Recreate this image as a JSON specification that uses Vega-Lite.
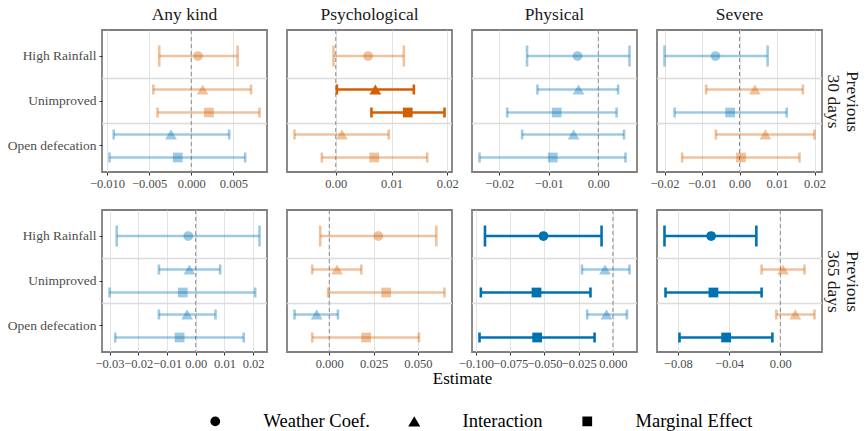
{
  "$schema": "https://vega.github.io/schema/vega-lite/v6.json",
  "padding": {"left": 6, "top": 5, "right": 6, "bottom": 4},
  "background": "white",
  "datasets": {
    "estimates": [
      {"outcome": "Any kind", "window": 30, "variable": "High Rainfall", "type": "Weather Coef.", "est": 0.0008, "lo": -0.0038, "hi": 0.0055},
      {"outcome": "Any kind", "window": 30, "variable": "Unimproved", "type": "Interaction", "est": 0.00135, "lo": -0.0045, "hi": 0.0071},
      {"outcome": "Any kind", "window": 30, "variable": "Unimproved", "type": "Marginal Effect", "est": 0.0021, "lo": -0.0040, "hi": 0.0081},
      {"outcome": "Any kind", "window": 30, "variable": "Open defecation", "type": "Interaction", "est": -0.0024, "lo": -0.0092, "hi": 0.0045},
      {"outcome": "Any kind", "window": 30, "variable": "Open defecation", "type": "Marginal Effect", "est": -0.0016, "lo": -0.0097, "hi": 0.0064},
      {"outcome": "Psychological", "window": 30, "variable": "High Rainfall", "type": "Weather Coef.", "est": 0.0058, "lo": -0.0004, "hi": 0.0122},
      {"outcome": "Psychological", "window": 30, "variable": "Unimproved", "type": "Interaction", "est": 0.0071, "lo": 0.0002, "hi": 0.0140},
      {"outcome": "Psychological", "window": 30, "variable": "Unimproved", "type": "Marginal Effect", "est": 0.0129, "lo": 0.0064, "hi": 0.0195},
      {"outcome": "Psychological", "window": 30, "variable": "Open defecation", "type": "Interaction", "est": 0.0011, "lo": -0.0074, "hi": 0.0095},
      {"outcome": "Psychological", "window": 30, "variable": "Open defecation", "type": "Marginal Effect", "est": 0.0069, "lo": -0.0025, "hi": 0.0164},
      {"outcome": "Physical", "window": 30, "variable": "High Rainfall", "type": "Weather Coef.", "est": -0.0042, "lo": -0.0144, "hi": 0.0063},
      {"outcome": "Physical", "window": 30, "variable": "Unimproved", "type": "Interaction", "est": -0.0040, "lo": -0.0123, "hi": 0.0040},
      {"outcome": "Physical", "window": 30, "variable": "Unimproved", "type": "Marginal Effect", "est": -0.0084, "lo": -0.0184, "hi": 0.0037},
      {"outcome": "Physical", "window": 30, "variable": "Open defecation", "type": "Interaction", "est": -0.0050, "lo": -0.0154, "hi": 0.0052},
      {"outcome": "Physical", "window": 30, "variable": "Open defecation", "type": "Marginal Effect", "est": -0.0092, "lo": -0.0240, "hi": 0.0055},
      {"outcome": "Severe", "window": 30, "variable": "High Rainfall", "type": "Weather Coef.", "est": -0.0064, "lo": -0.0200, "hi": 0.0075},
      {"outcome": "Severe", "window": 30, "variable": "Unimproved", "type": "Interaction", "est": 0.0041, "lo": -0.0089, "hi": 0.0169},
      {"outcome": "Severe", "window": 30, "variable": "Unimproved", "type": "Marginal Effect", "est": -0.0025, "lo": -0.0173, "hi": 0.0126},
      {"outcome": "Severe", "window": 30, "variable": "Open defecation", "type": "Interaction", "est": 0.0069, "lo": -0.0063, "hi": 0.0200},
      {"outcome": "Severe", "window": 30, "variable": "Open defecation", "type": "Marginal Effect", "est": 0.0004, "lo": -0.0153, "hi": 0.0160},
      {"outcome": "Any kind", "window": 365, "variable": "High Rainfall", "type": "Weather Coef.", "est": -0.0026, "lo": -0.0275, "hi": 0.0222},
      {"outcome": "Any kind", "window": 365, "variable": "Unimproved", "type": "Interaction", "est": -0.0022, "lo": -0.0128, "hi": 0.0085},
      {"outcome": "Any kind", "window": 365, "variable": "Unimproved", "type": "Marginal Effect", "est": -0.0045, "lo": -0.0300, "hi": 0.0207},
      {"outcome": "Any kind", "window": 365, "variable": "Open defecation", "type": "Interaction", "est": -0.0030, "lo": -0.0128, "hi": 0.0069},
      {"outcome": "Any kind", "window": 365, "variable": "Open defecation", "type": "Marginal Effect", "est": -0.0056, "lo": -0.0280, "hi": 0.0167},
      {"outcome": "Psychological", "window": 365, "variable": "High Rainfall", "type": "Weather Coef.", "est": 0.0277, "lo": -0.0051, "hi": 0.0604},
      {"outcome": "Psychological", "window": 365, "variable": "Unimproved", "type": "Interaction", "est": 0.0044, "lo": -0.0096, "hi": 0.0181},
      {"outcome": "Psychological", "window": 365, "variable": "Unimproved", "type": "Marginal Effect", "est": 0.0321, "lo": -0.0006, "hi": 0.0650},
      {"outcome": "Psychological", "window": 365, "variable": "Open defecation", "type": "Interaction", "est": -0.0071, "lo": -0.0196, "hi": 0.0049},
      {"outcome": "Psychological", "window": 365, "variable": "Open defecation", "type": "Marginal Effect", "est": 0.0208, "lo": -0.0096, "hi": 0.0506},
      {"outcome": "Physical", "window": 365, "variable": "High Rainfall", "type": "Weather Coef.", "est": -0.0507, "lo": -0.0934, "hi": -0.0083},
      {"outcome": "Physical", "window": 365, "variable": "Unimproved", "type": "Interaction", "est": -0.0058, "lo": -0.0226, "hi": 0.0121},
      {"outcome": "Physical", "window": 365, "variable": "Unimproved", "type": "Marginal Effect", "est": -0.0558, "lo": -0.0964, "hi": -0.0164},
      {"outcome": "Physical", "window": 365, "variable": "Open defecation", "type": "Interaction", "est": -0.0047, "lo": -0.0188, "hi": 0.0102},
      {"outcome": "Physical", "window": 365, "variable": "Open defecation", "type": "Marginal Effect", "est": -0.0553, "lo": -0.0974, "hi": -0.0134},
      {"outcome": "Severe", "window": 365, "variable": "High Rainfall", "type": "Weather Coef.", "est": -0.0540, "lo": -0.0904, "hi": -0.0187},
      {"outcome": "Severe", "window": 365, "variable": "Unimproved", "type": "Interaction", "est": 0.0021, "lo": -0.0146, "hi": 0.0189},
      {"outcome": "Severe", "window": 365, "variable": "Unimproved", "type": "Marginal Effect", "est": -0.0522, "lo": -0.0896, "hi": -0.0146},
      {"outcome": "Severe", "window": 365, "variable": "Open defecation", "type": "Interaction", "est": 0.0117, "lo": -0.0031, "hi": 0.0267},
      {"outcome": "Severe", "window": 365, "variable": "Open defecation", "type": "Marginal Effect", "est": -0.0423, "lo": -0.0787, "hi": -0.0062}
    ]
  },
  "data": {"name": "estimates"},
  "columns": 4,
  "spacing": {"row": 38, "column": 20},
  "bounds": "flush",
  "resolve": {"scale": {"x": "independent", "y": "independent", "yOffset": "independent"}, "axis": {"x": "independent", "y": "independent"}},
  "concat": [
    {
      "width": 165, "height": 142, "title": "Any kind",
      "transform": [{"filter": "datum.outcome === 'Any kind' && datum.window === 30"}],
      "layer": [
        {"transform": [{"filter": "datum.variable !== 'Open defecation' && datum.type !== 'Interaction'"}], "mark": {"type": "rule", "color": "#dcdcdc", "strokeWidth": 1.4},
         "encoding": {"y": {"field": "variable", "type": "nominal", "bandPosition": 1, "scale": {"domain": ["High Rainfall", "Unimproved", "Open defecation"], "paddingInner": 0, "paddingOuter": 0.078}, "axis": {"title": null, "labelFontSize": 13.5, "labelColor": "#4d4d4d", "ticks": true, "tickSize": 3, "labelPadding": 3, "domain": false, "grid": false}}}},
        {"transform": [{"filter": "datum.type === 'Weather Coef.'"}], "mark": {"type": "rule", "color": "#8a8a8a", "strokeDash": [4, 3], "strokeWidth": 1},
         "encoding": {"x": {"datum": 0, "type": "quantitative", "scale": {"zero": false, "nice": false, "padding": 7.5}, "axis": {"title": null, "values": [-0.01, -0.005, 0, 0.005], "format": ".3f"}}}},
        {"mark": {"type": "rule", "strokeWidth": 2.6},
         "encoding": {
           "x": {"field": "lo", "type": "quantitative", "scale": {"zero": false, "nice": false, "padding": 7.5}, "axis": {"title": null, "values": [-0.01, -0.005, 0, 0.005], "format": ".3f"}},
           "x2": {"field": "hi"},
           "y": {"field": "variable", "type": "nominal", "scale": {"domain": ["High Rainfall", "Unimproved", "Open defecation"], "paddingInner": 0, "paddingOuter": 0.078}, "axis": {"title": null, "labelFontSize": 13.5, "labelColor": "#4d4d4d", "ticks": true, "tickSize": 3, "labelPadding": 3, "domain": false, "grid": false}},
           "yOffset": {"field": "type", "type": "nominal", "scale": {"domain": ["Interaction", "Weather Coef.", "Marginal Effect"], "paddingInner": 0, "paddingOuter": 0.456}},
           "color": {"field": "est", "type": "quantitative", "scale": {"type": "threshold", "domain": [0], "range": ["#0072B2", "#D55E00"]}, "legend": null},
           "opacity": {"condition": {"test": "datum.lo > 0 || datum.hi < 0", "value": 1}, "value": 0.38}
         }},
        {"mark": {"type": "tick", "thickness": 2.6},
         "encoding": {
           "x": {"field": "lo", "type": "quantitative", "scale": {"zero": false, "nice": false, "padding": 7.5}},
           "y": {"field": "variable", "type": "nominal", "scale": {"domain": ["High Rainfall", "Unimproved", "Open defecation"], "paddingInner": 0, "paddingOuter": 0.078}},
           "yOffset": {"field": "type", "type": "nominal", "scale": {"domain": ["Interaction", "Weather Coef.", "Marginal Effect"], "paddingInner": 0, "paddingOuter": 0.456}},
           "size": {"condition": {"test": "datum.type === 'Weather Coef.'", "value": 21}, "value": 10},
           "color": {"field": "est", "type": "quantitative", "scale": {"type": "threshold", "domain": [0], "range": ["#0072B2", "#D55E00"]}, "legend": null},
           "opacity": {"condition": {"test": "datum.lo > 0 || datum.hi < 0", "value": 1}, "value": 0.38}
         }},
        {"mark": {"type": "tick", "thickness": 2.6},
         "encoding": {
           "x": {"field": "hi", "type": "quantitative", "scale": {"zero": false, "nice": false, "padding": 7.5}},
           "y": {"field": "variable", "type": "nominal", "scale": {"domain": ["High Rainfall", "Unimproved", "Open defecation"], "paddingInner": 0, "paddingOuter": 0.078}},
           "yOffset": {"field": "type", "type": "nominal", "scale": {"domain": ["Interaction", "Weather Coef.", "Marginal Effect"], "paddingInner": 0, "paddingOuter": 0.456}},
           "size": {"condition": {"test": "datum.type === 'Weather Coef.'", "value": 21}, "value": 10},
           "color": {"field": "est", "type": "quantitative", "scale": {"type": "threshold", "domain": [0], "range": ["#0072B2", "#D55E00"]}, "legend": null},
           "opacity": {"condition": {"test": "datum.lo > 0 || datum.hi < 0", "value": 1}, "value": 0.38}
         }},
        {"mark": {"type": "point", "filled": true, "strokeWidth": 0},
         "encoding": {
           "x": {"field": "est", "type": "quantitative", "scale": {"zero": false, "nice": false, "padding": 7.5}},
           "y": {"field": "variable", "type": "nominal", "scale": {"domain": ["High Rainfall", "Unimproved", "Open defecation"], "paddingInner": 0, "paddingOuter": 0.078}},
           "yOffset": {"field": "type", "type": "nominal", "scale": {"domain": ["Interaction", "Weather Coef.", "Marginal Effect"], "paddingInner": 0, "paddingOuter": 0.456}},
           "shape": {"field": "type", "type": "nominal", "scale": {"domain": ["Weather Coef.", "Interaction", "Marginal Effect"], "range": ["circle", "triangle-up", "square"]}, "legend": {"title": null, "encode": {"symbols": {"update": {"size": {"signal": "datum.value === 'Interaction' ? 145 : 95"}}}}}},
           "size": {"condition": {"test": "datum.type === 'Interaction'", "value": 140}, "value": 95},
           "color": {"field": "est", "type": "quantitative", "scale": {"type": "threshold", "domain": [0], "range": ["#0072B2", "#D55E00"]}, "legend": null},
           "opacity": {"condition": {"test": "datum.lo > 0 || datum.hi < 0", "value": 1}, "value": 0.38}
         }}
      ]
    },
    {
      "width": 165, "height": 142, "title": "Psychological",
      "transform": [{"filter": "datum.outcome === 'Psychological' && datum.window === 30"}],
      "layer": [
        {"transform": [{"filter": "datum.variable !== 'Open defecation' && datum.type !== 'Interaction'"}], "mark": {"type": "rule", "color": "#dcdcdc", "strokeWidth": 1.4},
         "encoding": {"y": {"field": "variable", "type": "nominal", "bandPosition": 1, "scale": {"domain": ["High Rainfall", "Unimproved", "Open defecation"], "paddingInner": 0, "paddingOuter": 0.078}, "axis": null}}},
        {"transform": [{"filter": "datum.type === 'Weather Coef.'"}], "mark": {"type": "rule", "color": "#8a8a8a", "strokeDash": [4, 3], "strokeWidth": 1},
         "encoding": {"x": {"datum": 0, "type": "quantitative", "scale": {"zero": false, "nice": false, "padding": 7.5}, "axis": {"title": null, "values": [0, 0.01, 0.02], "format": ".2f"}}}},
        {"mark": {"type": "rule", "strokeWidth": 2.6},
         "encoding": {
           "x": {"field": "lo", "type": "quantitative", "scale": {"zero": false, "nice": false, "padding": 7.5}, "axis": {"title": null, "values": [0, 0.01, 0.02], "format": ".2f"}},
           "x2": {"field": "hi"},
           "y": {"field": "variable", "type": "nominal", "scale": {"domain": ["High Rainfall", "Unimproved", "Open defecation"], "paddingInner": 0, "paddingOuter": 0.078}, "axis": null},
           "yOffset": {"field": "type", "type": "nominal", "scale": {"domain": ["Interaction", "Weather Coef.", "Marginal Effect"], "paddingInner": 0, "paddingOuter": 0.456}},
           "color": {"field": "est", "type": "quantitative", "scale": {"type": "threshold", "domain": [0], "range": ["#0072B2", "#D55E00"]}, "legend": null},
           "opacity": {"condition": {"test": "datum.lo > 0 || datum.hi < 0", "value": 1}, "value": 0.38}
         }},
        {"mark": {"type": "tick", "thickness": 2.6},
         "encoding": {
           "x": {"field": "lo", "type": "quantitative", "scale": {"zero": false, "nice": false, "padding": 7.5}},
           "y": {"field": "variable", "type": "nominal", "scale": {"domain": ["High Rainfall", "Unimproved", "Open defecation"], "paddingInner": 0, "paddingOuter": 0.078}, "axis": null},
           "yOffset": {"field": "type", "type": "nominal", "scale": {"domain": ["Interaction", "Weather Coef.", "Marginal Effect"], "paddingInner": 0, "paddingOuter": 0.456}},
           "size": {"condition": {"test": "datum.type === 'Weather Coef.'", "value": 21}, "value": 10},
           "color": {"field": "est", "type": "quantitative", "scale": {"type": "threshold", "domain": [0], "range": ["#0072B2", "#D55E00"]}, "legend": null},
           "opacity": {"condition": {"test": "datum.lo > 0 || datum.hi < 0", "value": 1}, "value": 0.38}
         }},
        {"mark": {"type": "tick", "thickness": 2.6},
         "encoding": {
           "x": {"field": "hi", "type": "quantitative", "scale": {"zero": false, "nice": false, "padding": 7.5}},
           "y": {"field": "variable", "type": "nominal", "scale": {"domain": ["High Rainfall", "Unimproved", "Open defecation"], "paddingInner": 0, "paddingOuter": 0.078}, "axis": null},
           "yOffset": {"field": "type", "type": "nominal", "scale": {"domain": ["Interaction", "Weather Coef.", "Marginal Effect"], "paddingInner": 0, "paddingOuter": 0.456}},
           "size": {"condition": {"test": "datum.type === 'Weather Coef.'", "value": 21}, "value": 10},
           "color": {"field": "est", "type": "quantitative", "scale": {"type": "threshold", "domain": [0], "range": ["#0072B2", "#D55E00"]}, "legend": null},
           "opacity": {"condition": {"test": "datum.lo > 0 || datum.hi < 0", "value": 1}, "value": 0.38}
         }},
        {"mark": {"type": "point", "filled": true, "strokeWidth": 0},
         "encoding": {
           "x": {"field": "est", "type": "quantitative", "scale": {"zero": false, "nice": false, "padding": 7.5}},
           "y": {"field": "variable", "type": "nominal", "scale": {"domain": ["High Rainfall", "Unimproved", "Open defecation"], "paddingInner": 0, "paddingOuter": 0.078}, "axis": null},
           "yOffset": {"field": "type", "type": "nominal", "scale": {"domain": ["Interaction", "Weather Coef.", "Marginal Effect"], "paddingInner": 0, "paddingOuter": 0.456}},
           "shape": {"field": "type", "type": "nominal", "scale": {"domain": ["Weather Coef.", "Interaction", "Marginal Effect"], "range": ["circle", "triangle-up", "square"]}, "legend": {"title": null, "encode": {"symbols": {"update": {"size": {"signal": "datum.value === 'Interaction' ? 145 : 95"}}}}}},
           "size": {"condition": {"test": "datum.type === 'Interaction'", "value": 140}, "value": 95},
           "color": {"field": "est", "type": "quantitative", "scale": {"type": "threshold", "domain": [0], "range": ["#0072B2", "#D55E00"]}, "legend": null},
           "opacity": {"condition": {"test": "datum.lo > 0 || datum.hi < 0", "value": 1}, "value": 0.38}
         }}
      ]
    },
    {
      "width": 165, "height": 142, "title": "Physical",
      "transform": [{"filter": "datum.outcome === 'Physical' && datum.window === 30"}],
      "layer": [
        {"transform": [{"filter": "datum.variable !== 'Open defecation' && datum.type !== 'Interaction'"}], "mark": {"type": "rule", "color": "#dcdcdc", "strokeWidth": 1.4},
         "encoding": {"y": {"field": "variable", "type": "nominal", "bandPosition": 1, "scale": {"domain": ["High Rainfall", "Unimproved", "Open defecation"], "paddingInner": 0, "paddingOuter": 0.078}, "axis": null}}},
        {"transform": [{"filter": "datum.type === 'Weather Coef.'"}], "mark": {"type": "rule", "color": "#8a8a8a", "strokeDash": [4, 3], "strokeWidth": 1},
         "encoding": {"x": {"datum": 0, "type": "quantitative", "scale": {"zero": false, "nice": false, "padding": 7.5}, "axis": {"title": null, "values": [-0.02, -0.01, 0], "format": ".2f"}}}},
        {"mark": {"type": "rule", "strokeWidth": 2.6},
         "encoding": {
           "x": {"field": "lo", "type": "quantitative", "scale": {"zero": false, "nice": false, "padding": 7.5}, "axis": {"title": null, "values": [-0.02, -0.01, 0], "format": ".2f"}},
           "x2": {"field": "hi"},
           "y": {"field": "variable", "type": "nominal", "scale": {"domain": ["High Rainfall", "Unimproved", "Open defecation"], "paddingInner": 0, "paddingOuter": 0.078}, "axis": null},
           "yOffset": {"field": "type", "type": "nominal", "scale": {"domain": ["Interaction", "Weather Coef.", "Marginal Effect"], "paddingInner": 0, "paddingOuter": 0.456}},
           "color": {"field": "est", "type": "quantitative", "scale": {"type": "threshold", "domain": [0], "range": ["#0072B2", "#D55E00"]}, "legend": null},
           "opacity": {"condition": {"test": "datum.lo > 0 || datum.hi < 0", "value": 1}, "value": 0.38}
         }},
        {"mark": {"type": "tick", "thickness": 2.6},
         "encoding": {
           "x": {"field": "lo", "type": "quantitative", "scale": {"zero": false, "nice": false, "padding": 7.5}},
           "y": {"field": "variable", "type": "nominal", "scale": {"domain": ["High Rainfall", "Unimproved", "Open defecation"], "paddingInner": 0, "paddingOuter": 0.078}, "axis": null},
           "yOffset": {"field": "type", "type": "nominal", "scale": {"domain": ["Interaction", "Weather Coef.", "Marginal Effect"], "paddingInner": 0, "paddingOuter": 0.456}},
           "size": {"condition": {"test": "datum.type === 'Weather Coef.'", "value": 21}, "value": 10},
           "color": {"field": "est", "type": "quantitative", "scale": {"type": "threshold", "domain": [0], "range": ["#0072B2", "#D55E00"]}, "legend": null},
           "opacity": {"condition": {"test": "datum.lo > 0 || datum.hi < 0", "value": 1}, "value": 0.38}
         }},
        {"mark": {"type": "tick", "thickness": 2.6},
         "encoding": {
           "x": {"field": "hi", "type": "quantitative", "scale": {"zero": false, "nice": false, "padding": 7.5}},
           "y": {"field": "variable", "type": "nominal", "scale": {"domain": ["High Rainfall", "Unimproved", "Open defecation"], "paddingInner": 0, "paddingOuter": 0.078}, "axis": null},
           "yOffset": {"field": "type", "type": "nominal", "scale": {"domain": ["Interaction", "Weather Coef.", "Marginal Effect"], "paddingInner": 0, "paddingOuter": 0.456}},
           "size": {"condition": {"test": "datum.type === 'Weather Coef.'", "value": 21}, "value": 10},
           "color": {"field": "est", "type": "quantitative", "scale": {"type": "threshold", "domain": [0], "range": ["#0072B2", "#D55E00"]}, "legend": null},
           "opacity": {"condition": {"test": "datum.lo > 0 || datum.hi < 0", "value": 1}, "value": 0.38}
         }},
        {"mark": {"type": "point", "filled": true, "strokeWidth": 0},
         "encoding": {
           "x": {"field": "est", "type": "quantitative", "scale": {"zero": false, "nice": false, "padding": 7.5}},
           "y": {"field": "variable", "type": "nominal", "scale": {"domain": ["High Rainfall", "Unimproved", "Open defecation"], "paddingInner": 0, "paddingOuter": 0.078}, "axis": null},
           "yOffset": {"field": "type", "type": "nominal", "scale": {"domain": ["Interaction", "Weather Coef.", "Marginal Effect"], "paddingInner": 0, "paddingOuter": 0.456}},
           "shape": {"field": "type", "type": "nominal", "scale": {"domain": ["Weather Coef.", "Interaction", "Marginal Effect"], "range": ["circle", "triangle-up", "square"]}, "legend": {"title": null, "encode": {"symbols": {"update": {"size": {"signal": "datum.value === 'Interaction' ? 145 : 95"}}}}}},
           "size": {"condition": {"test": "datum.type === 'Interaction'", "value": 140}, "value": 95},
           "color": {"field": "est", "type": "quantitative", "scale": {"type": "threshold", "domain": [0], "range": ["#0072B2", "#D55E00"]}, "legend": null},
           "opacity": {"condition": {"test": "datum.lo > 0 || datum.hi < 0", "value": 1}, "value": 0.38}
         }}
      ]
    },
    {
      "width": 165, "height": 142, "title": "Severe",
      "transform": [{"filter": "datum.outcome === 'Severe' && datum.window === 30"}],
      "layer": [
        {"transform": [{"filter": "datum.variable !== 'Open defecation' && datum.type !== 'Interaction'"}], "mark": {"type": "rule", "color": "#dcdcdc", "strokeWidth": 1.4},
         "encoding": {"y": {"field": "variable", "type": "nominal", "bandPosition": 1, "scale": {"domain": ["High Rainfall", "Unimproved", "Open defecation"], "paddingInner": 0, "paddingOuter": 0.078}, "axis": {"orient": "right", "title": ["Previous", "30 days"], "labels": false, "ticks": false, "domain": false, "grid": false, "titlePadding": 1, "titleFontSize": 17.5, "titleColor": "#1a1a1a"}}}},
        {"transform": [{"filter": "datum.type === 'Weather Coef.'"}], "mark": {"type": "rule", "color": "#8a8a8a", "strokeDash": [4, 3], "strokeWidth": 1},
         "encoding": {"x": {"datum": 0, "type": "quantitative", "scale": {"zero": false, "nice": false, "padding": 7.5}, "axis": {"title": null, "values": [-0.02, -0.01, 0, 0.01, 0.02], "format": ".2f"}}}},
        {"mark": {"type": "rule", "strokeWidth": 2.6},
         "encoding": {
           "x": {"field": "lo", "type": "quantitative", "scale": {"zero": false, "nice": false, "padding": 7.5}, "axis": {"title": null, "values": [-0.02, -0.01, 0, 0.01, 0.02], "format": ".2f"}},
           "x2": {"field": "hi"},
           "y": {"field": "variable", "type": "nominal", "scale": {"domain": ["High Rainfall", "Unimproved", "Open defecation"], "paddingInner": 0, "paddingOuter": 0.078}, "axis": {"orient": "right", "title": ["Previous", "30 days"], "labels": false, "ticks": false, "domain": false, "grid": false, "titlePadding": 1, "titleFontSize": 17.5, "titleColor": "#1a1a1a"}},
           "yOffset": {"field": "type", "type": "nominal", "scale": {"domain": ["Interaction", "Weather Coef.", "Marginal Effect"], "paddingInner": 0, "paddingOuter": 0.456}},
           "color": {"field": "est", "type": "quantitative", "scale": {"type": "threshold", "domain": [0], "range": ["#0072B2", "#D55E00"]}, "legend": null},
           "opacity": {"condition": {"test": "datum.lo > 0 || datum.hi < 0", "value": 1}, "value": 0.38}
         }},
        {"mark": {"type": "tick", "thickness": 2.6},
         "encoding": {
           "x": {"field": "lo", "type": "quantitative", "scale": {"zero": false, "nice": false, "padding": 7.5}},
           "y": {"field": "variable", "type": "nominal", "scale": {"domain": ["High Rainfall", "Unimproved", "Open defecation"], "paddingInner": 0, "paddingOuter": 0.078}},
           "yOffset": {"field": "type", "type": "nominal", "scale": {"domain": ["Interaction", "Weather Coef.", "Marginal Effect"], "paddingInner": 0, "paddingOuter": 0.456}},
           "size": {"condition": {"test": "datum.type === 'Weather Coef.'", "value": 21}, "value": 10},
           "color": {"field": "est", "type": "quantitative", "scale": {"type": "threshold", "domain": [0], "range": ["#0072B2", "#D55E00"]}, "legend": null},
           "opacity": {"condition": {"test": "datum.lo > 0 || datum.hi < 0", "value": 1}, "value": 0.38}
         }},
        {"mark": {"type": "tick", "thickness": 2.6},
         "encoding": {
           "x": {"field": "hi", "type": "quantitative", "scale": {"zero": false, "nice": false, "padding": 7.5}},
           "y": {"field": "variable", "type": "nominal", "scale": {"domain": ["High Rainfall", "Unimproved", "Open defecation"], "paddingInner": 0, "paddingOuter": 0.078}},
           "yOffset": {"field": "type", "type": "nominal", "scale": {"domain": ["Interaction", "Weather Coef.", "Marginal Effect"], "paddingInner": 0, "paddingOuter": 0.456}},
           "size": {"condition": {"test": "datum.type === 'Weather Coef.'", "value": 21}, "value": 10},
           "color": {"field": "est", "type": "quantitative", "scale": {"type": "threshold", "domain": [0], "range": ["#0072B2", "#D55E00"]}, "legend": null},
           "opacity": {"condition": {"test": "datum.lo > 0 || datum.hi < 0", "value": 1}, "value": 0.38}
         }},
        {"mark": {"type": "point", "filled": true, "strokeWidth": 0},
         "encoding": {
           "x": {"field": "est", "type": "quantitative", "scale": {"zero": false, "nice": false, "padding": 7.5}},
           "y": {"field": "variable", "type": "nominal", "scale": {"domain": ["High Rainfall", "Unimproved", "Open defecation"], "paddingInner": 0, "paddingOuter": 0.078}},
           "yOffset": {"field": "type", "type": "nominal", "scale": {"domain": ["Interaction", "Weather Coef.", "Marginal Effect"], "paddingInner": 0, "paddingOuter": 0.456}},
           "shape": {"field": "type", "type": "nominal", "scale": {"domain": ["Weather Coef.", "Interaction", "Marginal Effect"], "range": ["circle", "triangle-up", "square"]}, "legend": {"title": null, "encode": {"symbols": {"update": {"size": {"signal": "datum.value === 'Interaction' ? 145 : 95"}}}}}},
           "size": {"condition": {"test": "datum.type === 'Interaction'", "value": 140}, "value": 95},
           "color": {"field": "est", "type": "quantitative", "scale": {"type": "threshold", "domain": [0], "range": ["#0072B2", "#D55E00"]}, "legend": null},
           "opacity": {"condition": {"test": "datum.lo > 0 || datum.hi < 0", "value": 1}, "value": 0.38}
         }}
      ]
    },
    {
      "width": 165, "height": 142,
      "transform": [{"filter": "datum.outcome === 'Any kind' && datum.window === 365"}],
      "layer": [
        {"transform": [{"filter": "datum.variable !== 'Open defecation' && datum.type !== 'Interaction'"}], "mark": {"type": "rule", "color": "#dcdcdc", "strokeWidth": 1.4},
         "encoding": {"y": {"field": "variable", "type": "nominal", "bandPosition": 1, "scale": {"domain": ["High Rainfall", "Unimproved", "Open defecation"], "paddingInner": 0, "paddingOuter": 0.078}, "axis": {"title": null, "labelFontSize": 13.5, "labelColor": "#4d4d4d", "ticks": true, "tickSize": 3, "labelPadding": 3, "domain": false, "grid": false}}}},
        {"transform": [{"filter": "datum.type === 'Weather Coef.'"}], "mark": {"type": "rule", "color": "#8a8a8a", "strokeDash": [4, 3], "strokeWidth": 1},
         "encoding": {"x": {"datum": 0, "type": "quantitative", "scale": {"zero": false, "nice": false, "padding": 7.5}, "axis": {"title": null, "values": [-0.03, -0.02, -0.01, 0, 0.01, 0.02], "format": ".2f", "tickCount": 12}}}},
        {"mark": {"type": "rule", "strokeWidth": 2.6},
         "encoding": {
           "x": {"field": "lo", "type": "quantitative", "scale": {"zero": false, "nice": false, "padding": 7.5}, "axis": {"title": null, "values": [-0.03, -0.02, -0.01, 0, 0.01, 0.02], "format": ".2f", "tickCount": 12}},
           "x2": {"field": "hi"},
           "y": {"field": "variable", "type": "nominal", "scale": {"domain": ["High Rainfall", "Unimproved", "Open defecation"], "paddingInner": 0, "paddingOuter": 0.078}, "axis": {"title": null, "labelFontSize": 13.5, "labelColor": "#4d4d4d", "ticks": true, "tickSize": 3, "labelPadding": 3, "domain": false, "grid": false}},
           "yOffset": {"field": "type", "type": "nominal", "scale": {"domain": ["Interaction", "Weather Coef.", "Marginal Effect"], "paddingInner": 0, "paddingOuter": 0.456}},
           "color": {"field": "est", "type": "quantitative", "scale": {"type": "threshold", "domain": [0], "range": ["#0072B2", "#D55E00"]}, "legend": null},
           "opacity": {"condition": {"test": "datum.lo > 0 || datum.hi < 0", "value": 1}, "value": 0.38}
         }},
        {"mark": {"type": "tick", "thickness": 2.6},
         "encoding": {
           "x": {"field": "lo", "type": "quantitative", "scale": {"zero": false, "nice": false, "padding": 7.5}},
           "y": {"field": "variable", "type": "nominal", "scale": {"domain": ["High Rainfall", "Unimproved", "Open defecation"], "paddingInner": 0, "paddingOuter": 0.078}},
           "yOffset": {"field": "type", "type": "nominal", "scale": {"domain": ["Interaction", "Weather Coef.", "Marginal Effect"], "paddingInner": 0, "paddingOuter": 0.456}},
           "size": {"condition": {"test": "datum.type === 'Weather Coef.'", "value": 21}, "value": 10},
           "color": {"field": "est", "type": "quantitative", "scale": {"type": "threshold", "domain": [0], "range": ["#0072B2", "#D55E00"]}, "legend": null},
           "opacity": {"condition": {"test": "datum.lo > 0 || datum.hi < 0", "value": 1}, "value": 0.38}
         }},
        {"mark": {"type": "tick", "thickness": 2.6},
         "encoding": {
           "x": {"field": "hi", "type": "quantitative", "scale": {"zero": false, "nice": false, "padding": 7.5}},
           "y": {"field": "variable", "type": "nominal", "scale": {"domain": ["High Rainfall", "Unimproved", "Open defecation"], "paddingInner": 0, "paddingOuter": 0.078}},
           "yOffset": {"field": "type", "type": "nominal", "scale": {"domain": ["Interaction", "Weather Coef.", "Marginal Effect"], "paddingInner": 0, "paddingOuter": 0.456}},
           "size": {"condition": {"test": "datum.type === 'Weather Coef.'", "value": 21}, "value": 10},
           "color": {"field": "est", "type": "quantitative", "scale": {"type": "threshold", "domain": [0], "range": ["#0072B2", "#D55E00"]}, "legend": null},
           "opacity": {"condition": {"test": "datum.lo > 0 || datum.hi < 0", "value": 1}, "value": 0.38}
         }},
        {"mark": {"type": "point", "filled": true, "strokeWidth": 0},
         "encoding": {
           "x": {"field": "est", "type": "quantitative", "scale": {"zero": false, "nice": false, "padding": 7.5}},
           "y": {"field": "variable", "type": "nominal", "scale": {"domain": ["High Rainfall", "Unimproved", "Open defecation"], "paddingInner": 0, "paddingOuter": 0.078}},
           "yOffset": {"field": "type", "type": "nominal", "scale": {"domain": ["Interaction", "Weather Coef.", "Marginal Effect"], "paddingInner": 0, "paddingOuter": 0.456}},
           "shape": {"field": "type", "type": "nominal", "scale": {"domain": ["Weather Coef.", "Interaction", "Marginal Effect"], "range": ["circle", "triangle-up", "square"]}, "legend": {"title": null, "encode": {"symbols": {"update": {"size": {"signal": "datum.value === 'Interaction' ? 145 : 95"}}}}}},
           "size": {"condition": {"test": "datum.type === 'Interaction'", "value": 140}, "value": 95},
           "color": {"field": "est", "type": "quantitative", "scale": {"type": "threshold", "domain": [0], "range": ["#0072B2", "#D55E00"]}, "legend": null},
           "opacity": {"condition": {"test": "datum.lo > 0 || datum.hi < 0", "value": 1}, "value": 0.38}
         }}
      ]
    },
    {
      "width": 165, "height": 142,
      "transform": [{"filter": "datum.outcome === 'Psychological' && datum.window === 365"}],
      "layer": [
        {"transform": [{"filter": "datum.variable !== 'Open defecation' && datum.type !== 'Interaction'"}], "mark": {"type": "rule", "color": "#dcdcdc", "strokeWidth": 1.4},
         "encoding": {"y": {"field": "variable", "type": "nominal", "bandPosition": 1, "scale": {"domain": ["High Rainfall", "Unimproved", "Open defecation"], "paddingInner": 0, "paddingOuter": 0.078}, "axis": null}}},
        {"transform": [{"filter": "datum.type === 'Weather Coef.'"}], "mark": {"type": "rule", "color": "#8a8a8a", "strokeDash": [4, 3], "strokeWidth": 1},
         "encoding": {"x": {"datum": 0, "type": "quantitative", "scale": {"zero": false, "nice": false, "padding": 7.5}, "axis": {"title": "Estimate", "titleX": 175, "titlePadding": 1, "values": [0, 0.025, 0.05], "format": ".3f"}}}},
        {"mark": {"type": "rule", "strokeWidth": 2.6},
         "encoding": {
           "x": {"field": "lo", "type": "quantitative", "scale": {"zero": false, "nice": false, "padding": 7.5}, "axis": {"title": "Estimate", "titleX": 175, "titlePadding": 1, "values": [0, 0.025, 0.05], "format": ".3f"}},
           "x2": {"field": "hi"},
           "y": {"field": "variable", "type": "nominal", "scale": {"domain": ["High Rainfall", "Unimproved", "Open defecation"], "paddingInner": 0, "paddingOuter": 0.078}, "axis": null},
           "yOffset": {"field": "type", "type": "nominal", "scale": {"domain": ["Interaction", "Weather Coef.", "Marginal Effect"], "paddingInner": 0, "paddingOuter": 0.456}},
           "color": {"field": "est", "type": "quantitative", "scale": {"type": "threshold", "domain": [0], "range": ["#0072B2", "#D55E00"]}, "legend": null},
           "opacity": {"condition": {"test": "datum.lo > 0 || datum.hi < 0", "value": 1}, "value": 0.38}
         }},
        {"mark": {"type": "tick", "thickness": 2.6},
         "encoding": {
           "x": {"field": "lo", "type": "quantitative", "scale": {"zero": false, "nice": false, "padding": 7.5}},
           "y": {"field": "variable", "type": "nominal", "scale": {"domain": ["High Rainfall", "Unimproved", "Open defecation"], "paddingInner": 0, "paddingOuter": 0.078}, "axis": null},
           "yOffset": {"field": "type", "type": "nominal", "scale": {"domain": ["Interaction", "Weather Coef.", "Marginal Effect"], "paddingInner": 0, "paddingOuter": 0.456}},
           "size": {"condition": {"test": "datum.type === 'Weather Coef.'", "value": 21}, "value": 10},
           "color": {"field": "est", "type": "quantitative", "scale": {"type": "threshold", "domain": [0], "range": ["#0072B2", "#D55E00"]}, "legend": null},
           "opacity": {"condition": {"test": "datum.lo > 0 || datum.hi < 0", "value": 1}, "value": 0.38}
         }},
        {"mark": {"type": "tick", "thickness": 2.6},
         "encoding": {
           "x": {"field": "hi", "type": "quantitative", "scale": {"zero": false, "nice": false, "padding": 7.5}},
           "y": {"field": "variable", "type": "nominal", "scale": {"domain": ["High Rainfall", "Unimproved", "Open defecation"], "paddingInner": 0, "paddingOuter": 0.078}, "axis": null},
           "yOffset": {"field": "type", "type": "nominal", "scale": {"domain": ["Interaction", "Weather Coef.", "Marginal Effect"], "paddingInner": 0, "paddingOuter": 0.456}},
           "size": {"condition": {"test": "datum.type === 'Weather Coef.'", "value": 21}, "value": 10},
           "color": {"field": "est", "type": "quantitative", "scale": {"type": "threshold", "domain": [0], "range": ["#0072B2", "#D55E00"]}, "legend": null},
           "opacity": {"condition": {"test": "datum.lo > 0 || datum.hi < 0", "value": 1}, "value": 0.38}
         }},
        {"mark": {"type": "point", "filled": true, "strokeWidth": 0},
         "encoding": {
           "x": {"field": "est", "type": "quantitative", "scale": {"zero": false, "nice": false, "padding": 7.5}},
           "y": {"field": "variable", "type": "nominal", "scale": {"domain": ["High Rainfall", "Unimproved", "Open defecation"], "paddingInner": 0, "paddingOuter": 0.078}, "axis": null},
           "yOffset": {"field": "type", "type": "nominal", "scale": {"domain": ["Interaction", "Weather Coef.", "Marginal Effect"], "paddingInner": 0, "paddingOuter": 0.456}},
           "shape": {"field": "type", "type": "nominal", "scale": {"domain": ["Weather Coef.", "Interaction", "Marginal Effect"], "range": ["circle", "triangle-up", "square"]}, "legend": {"title": null, "encode": {"symbols": {"update": {"size": {"signal": "datum.value === 'Interaction' ? 145 : 95"}}}}}},
           "size": {"condition": {"test": "datum.type === 'Interaction'", "value": 140}, "value": 95},
           "color": {"field": "est", "type": "quantitative", "scale": {"type": "threshold", "domain": [0], "range": ["#0072B2", "#D55E00"]}, "legend": null},
           "opacity": {"condition": {"test": "datum.lo > 0 || datum.hi < 0", "value": 1}, "value": 0.38}
         }}
      ]
    },
    {
      "width": 165, "height": 142,
      "transform": [{"filter": "datum.outcome === 'Physical' && datum.window === 365"}],
      "layer": [
        {"transform": [{"filter": "datum.variable !== 'Open defecation' && datum.type !== 'Interaction'"}], "mark": {"type": "rule", "color": "#dcdcdc", "strokeWidth": 1.4},
         "encoding": {"y": {"field": "variable", "type": "nominal", "bandPosition": 1, "scale": {"domain": ["High Rainfall", "Unimproved", "Open defecation"], "paddingInner": 0, "paddingOuter": 0.078}, "axis": null}}},
        {"transform": [{"filter": "datum.type === 'Weather Coef.'"}], "mark": {"type": "rule", "color": "#8a8a8a", "strokeDash": [4, 3], "strokeWidth": 1},
         "encoding": {"x": {"datum": 0, "type": "quantitative", "scale": {"zero": false, "nice": false, "padding": 7.5}, "axis": {"title": null, "values": [-0.1, -0.075, -0.05, -0.025, 0], "format": ".3f"}}}},
        {"mark": {"type": "rule", "strokeWidth": 2.6},
         "encoding": {
           "x": {"field": "lo", "type": "quantitative", "scale": {"zero": false, "nice": false, "padding": 7.5}, "axis": {"title": null, "values": [-0.1, -0.075, -0.05, -0.025, 0], "format": ".3f"}},
           "x2": {"field": "hi"},
           "y": {"field": "variable", "type": "nominal", "scale": {"domain": ["High Rainfall", "Unimproved", "Open defecation"], "paddingInner": 0, "paddingOuter": 0.078}, "axis": null},
           "yOffset": {"field": "type", "type": "nominal", "scale": {"domain": ["Interaction", "Weather Coef.", "Marginal Effect"], "paddingInner": 0, "paddingOuter": 0.456}},
           "color": {"field": "est", "type": "quantitative", "scale": {"type": "threshold", "domain": [0], "range": ["#0072B2", "#D55E00"]}, "legend": null},
           "opacity": {"condition": {"test": "datum.lo > 0 || datum.hi < 0", "value": 1}, "value": 0.38}
         }},
        {"mark": {"type": "tick", "thickness": 2.6},
         "encoding": {
           "x": {"field": "lo", "type": "quantitative", "scale": {"zero": false, "nice": false, "padding": 7.5}},
           "y": {"field": "variable", "type": "nominal", "scale": {"domain": ["High Rainfall", "Unimproved", "Open defecation"], "paddingInner": 0, "paddingOuter": 0.078}, "axis": null},
           "yOffset": {"field": "type", "type": "nominal", "scale": {"domain": ["Interaction", "Weather Coef.", "Marginal Effect"], "paddingInner": 0, "paddingOuter": 0.456}},
           "size": {"condition": {"test": "datum.type === 'Weather Coef.'", "value": 21}, "value": 10},
           "color": {"field": "est", "type": "quantitative", "scale": {"type": "threshold", "domain": [0], "range": ["#0072B2", "#D55E00"]}, "legend": null},
           "opacity": {"condition": {"test": "datum.lo > 0 || datum.hi < 0", "value": 1}, "value": 0.38}
         }},
        {"mark": {"type": "tick", "thickness": 2.6},
         "encoding": {
           "x": {"field": "hi", "type": "quantitative", "scale": {"zero": false, "nice": false, "padding": 7.5}},
           "y": {"field": "variable", "type": "nominal", "scale": {"domain": ["High Rainfall", "Unimproved", "Open defecation"], "paddingInner": 0, "paddingOuter": 0.078}, "axis": null},
           "yOffset": {"field": "type", "type": "nominal", "scale": {"domain": ["Interaction", "Weather Coef.", "Marginal Effect"], "paddingInner": 0, "paddingOuter": 0.456}},
           "size": {"condition": {"test": "datum.type === 'Weather Coef.'", "value": 21}, "value": 10},
           "color": {"field": "est", "type": "quantitative", "scale": {"type": "threshold", "domain": [0], "range": ["#0072B2", "#D55E00"]}, "legend": null},
           "opacity": {"condition": {"test": "datum.lo > 0 || datum.hi < 0", "value": 1}, "value": 0.38}
         }},
        {"mark": {"type": "point", "filled": true, "strokeWidth": 0},
         "encoding": {
           "x": {"field": "est", "type": "quantitative", "scale": {"zero": false, "nice": false, "padding": 7.5}},
           "y": {"field": "variable", "type": "nominal", "scale": {"domain": ["High Rainfall", "Unimproved", "Open defecation"], "paddingInner": 0, "paddingOuter": 0.078}, "axis": null},
           "yOffset": {"field": "type", "type": "nominal", "scale": {"domain": ["Interaction", "Weather Coef.", "Marginal Effect"], "paddingInner": 0, "paddingOuter": 0.456}},
           "shape": {"field": "type", "type": "nominal", "scale": {"domain": ["Weather Coef.", "Interaction", "Marginal Effect"], "range": ["circle", "triangle-up", "square"]}, "legend": {"title": null, "encode": {"symbols": {"update": {"size": {"signal": "datum.value === 'Interaction' ? 145 : 95"}}}}}},
           "size": {"condition": {"test": "datum.type === 'Interaction'", "value": 140}, "value": 95},
           "color": {"field": "est", "type": "quantitative", "scale": {"type": "threshold", "domain": [0], "range": ["#0072B2", "#D55E00"]}, "legend": null},
           "opacity": {"condition": {"test": "datum.lo > 0 || datum.hi < 0", "value": 1}, "value": 0.38}
         }}
      ]
    },
    {
      "width": 165, "height": 142,
      "transform": [{"filter": "datum.outcome === 'Severe' && datum.window === 365"}],
      "layer": [
        {"transform": [{"filter": "datum.variable !== 'Open defecation' && datum.type !== 'Interaction'"}], "mark": {"type": "rule", "color": "#dcdcdc", "strokeWidth": 1.4},
         "encoding": {"y": {"field": "variable", "type": "nominal", "bandPosition": 1, "scale": {"domain": ["High Rainfall", "Unimproved", "Open defecation"], "paddingInner": 0, "paddingOuter": 0.078}, "axis": {"orient": "right", "title": ["Previous", "365 days"], "labels": false, "ticks": false, "domain": false, "grid": false, "titlePadding": 1, "titleFontSize": 17.5, "titleColor": "#1a1a1a"}}}},
        {"transform": [{"filter": "datum.type === 'Weather Coef.'"}], "mark": {"type": "rule", "color": "#8a8a8a", "strokeDash": [4, 3], "strokeWidth": 1},
         "encoding": {"x": {"datum": 0, "type": "quantitative", "scale": {"zero": false, "nice": false, "padding": 7.5}, "axis": {"title": null, "values": [-0.08, -0.04, 0], "format": ".2f"}}}},
        {"mark": {"type": "rule", "strokeWidth": 2.6},
         "encoding": {
           "x": {"field": "lo", "type": "quantitative", "scale": {"zero": false, "nice": false, "padding": 7.5}, "axis": {"title": null, "values": [-0.08, -0.04, 0], "format": ".2f"}},
           "x2": {"field": "hi"},
           "y": {"field": "variable", "type": "nominal", "scale": {"domain": ["High Rainfall", "Unimproved", "Open defecation"], "paddingInner": 0, "paddingOuter": 0.078}, "axis": {"orient": "right", "title": ["Previous", "365 days"], "labels": false, "ticks": false, "domain": false, "grid": false, "titlePadding": 1, "titleFontSize": 17.5, "titleColor": "#1a1a1a"}},
           "yOffset": {"field": "type", "type": "nominal", "scale": {"domain": ["Interaction", "Weather Coef.", "Marginal Effect"], "paddingInner": 0, "paddingOuter": 0.456}},
           "color": {"field": "est", "type": "quantitative", "scale": {"type": "threshold", "domain": [0], "range": ["#0072B2", "#D55E00"]}, "legend": null},
           "opacity": {"condition": {"test": "datum.lo > 0 || datum.hi < 0", "value": 1}, "value": 0.38}
         }},
        {"mark": {"type": "tick", "thickness": 2.6},
         "encoding": {
           "x": {"field": "lo", "type": "quantitative", "scale": {"zero": false, "nice": false, "padding": 7.5}},
           "y": {"field": "variable", "type": "nominal", "scale": {"domain": ["High Rainfall", "Unimproved", "Open defecation"], "paddingInner": 0, "paddingOuter": 0.078}},
           "yOffset": {"field": "type", "type": "nominal", "scale": {"domain": ["Interaction", "Weather Coef.", "Marginal Effect"], "paddingInner": 0, "paddingOuter": 0.456}},
           "size": {"condition": {"test": "datum.type === 'Weather Coef.'", "value": 21}, "value": 10},
           "color": {"field": "est", "type": "quantitative", "scale": {"type": "threshold", "domain": [0], "range": ["#0072B2", "#D55E00"]}, "legend": null},
           "opacity": {"condition": {"test": "datum.lo > 0 || datum.hi < 0", "value": 1}, "value": 0.38}
         }},
        {"mark": {"type": "tick", "thickness": 2.6},
         "encoding": {
           "x": {"field": "hi", "type": "quantitative", "scale": {"zero": false, "nice": false, "padding": 7.5}},
           "y": {"field": "variable", "type": "nominal", "scale": {"domain": ["High Rainfall", "Unimproved", "Open defecation"], "paddingInner": 0, "paddingOuter": 0.078}},
           "yOffset": {"field": "type", "type": "nominal", "scale": {"domain": ["Interaction", "Weather Coef.", "Marginal Effect"], "paddingInner": 0, "paddingOuter": 0.456}},
           "size": {"condition": {"test": "datum.type === 'Weather Coef.'", "value": 21}, "value": 10},
           "color": {"field": "est", "type": "quantitative", "scale": {"type": "threshold", "domain": [0], "range": ["#0072B2", "#D55E00"]}, "legend": null},
           "opacity": {"condition": {"test": "datum.lo > 0 || datum.hi < 0", "value": 1}, "value": 0.38}
         }},
        {"mark": {"type": "point", "filled": true, "strokeWidth": 0},
         "encoding": {
           "x": {"field": "est", "type": "quantitative", "scale": {"zero": false, "nice": false, "padding": 7.5}},
           "y": {"field": "variable", "type": "nominal", "scale": {"domain": ["High Rainfall", "Unimproved", "Open defecation"], "paddingInner": 0, "paddingOuter": 0.078}},
           "yOffset": {"field": "type", "type": "nominal", "scale": {"domain": ["Interaction", "Weather Coef.", "Marginal Effect"], "paddingInner": 0, "paddingOuter": 0.456}},
           "shape": {"field": "type", "type": "nominal", "scale": {"domain": ["Weather Coef.", "Interaction", "Marginal Effect"], "range": ["circle", "triangle-up", "square"]}, "legend": {"title": null, "encode": {"symbols": {"update": {"size": {"signal": "datum.value === 'Interaction' ? 145 : 95"}}}}}},
           "size": {"condition": {"test": "datum.type === 'Interaction'", "value": 140}, "value": 95},
           "color": {"field": "est", "type": "quantitative", "scale": {"type": "threshold", "domain": [0], "range": ["#0072B2", "#D55E00"]}, "legend": null},
           "opacity": {"condition": {"test": "datum.lo > 0 || datum.hi < 0", "value": 1}, "value": 0.38}
         }}
      ]
    }
  ],
  "config": {
    "font": "Liberation Serif",
    "view": {"stroke": "#7f7f7f", "strokeWidth": 1.8},
    "axis": {
      "labelFont": "Liberation Serif", "labelFontSize": 12.5, "labelColor": "#4d4d4d",
      "tickColor": "#333333", "tickSize": 3, "labelPadding": 2, "domain": false,
      "grid": true, "gridColor": "#e3e3e3", "gridWidth": 1,
      "labelFlush": false, "labelOverlap": false,
      "titleFont": "Liberation Serif", "titleFontWeight": "normal", "titleColor": "#000000", "titleFontSize": 17
    },
    "axisY": {"grid": false},
    "title": {"font": "Liberation Serif", "fontSize": 17.5, "fontWeight": "normal", "color": "#1a1a1a", "offset": 6},
    "legend": {
      "orient": "none", "direction": "horizontal", "legendX": 104, "legendY": 382,
      "labelFont": "Liberation Serif", "labelFontSize": 18.5, "labelColor": "#000000",
      "labelOffset": 39, "columnPadding": 35, "symbolSize": 95,
      "symbolFillColor": "#000000", "symbolStrokeWidth": 0, "symbolOpacity": 1
    }
  }
}
